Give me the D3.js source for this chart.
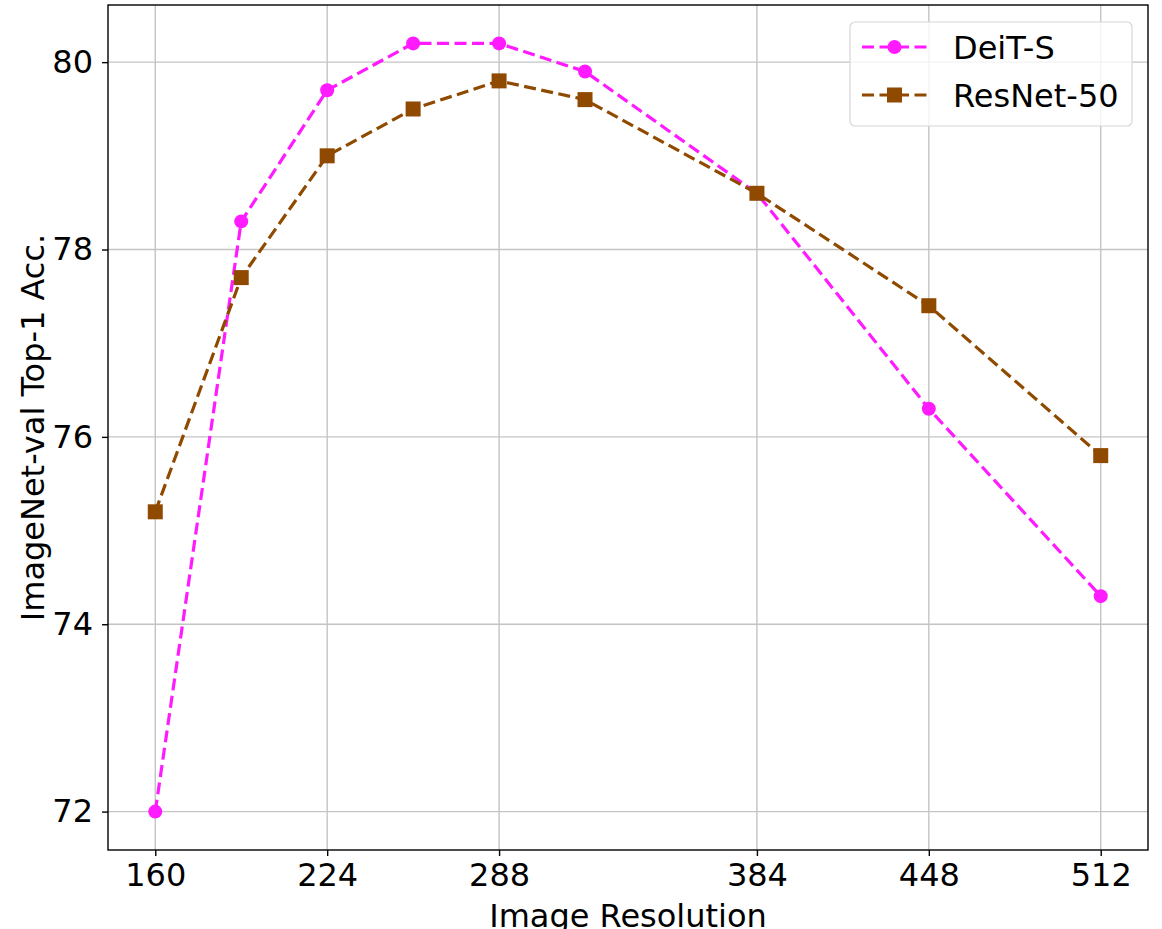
<!DOCTYPE html>
<html>
<head>
<meta charset="utf-8">
<script src="https://cdn.jsdelivr.net/npm/d3@7"></script>
<style>
  html, body { margin: 0; padding: 0; background: #fff; }
  svg { display: block; font-family: 'DejaVu Sans', sans-serif; }
</style>
</head>
<body>
<div id="chart"></div>
<script>
// data
const resolutions = [160, 192, 224, 256, 288, 320, 384, 448, 512];
const deitS = [72.0, 78.3, 79.7, 80.2, 80.2, 79.9, 78.6, 76.3, 74.3];
const resnet50 = [75.2, 77.7, 79.0, 79.5, 79.8, 79.6, 78.6, 77.4, 75.8];
const xTicks = [160, 224, 288, 384, 448, 512];
const yTicks = [72, 74, 76, 78, 80];

const seriesList = [
  { name: 'DeiT-S', values: deitS, color: '#ff1aff', marker: 'circle' },
  { name: 'ResNet-50', values: resnet50, color: '#8f4a00', marker: 'square' },
];

const width = 1162, height = 929;
const margin = { top: 5, right: 14, bottom: 79, left: 108 };
const innerW = width - margin.left - margin.right;
const innerH = height - margin.top - margin.bottom;
const fontSize = '32px';

// matplotlib style 5% padding
const xPad = (512 - 160) * 0.05;
const yMin = 72.0, yMax = 80.2;
const yPad = (yMax - yMin) * 0.05;

const x = d3.scaleLinear().domain([160 - xPad, 512 + xPad]).range([0, innerW]);
const y = d3.scaleLinear().domain([yMin - yPad, yMax + yPad]).range([innerH, 0]);

const svg = d3.select('#chart').append('svg')
  .attr('width', width)
  .attr('height', height);

const g = svg.append('g')
  .attr('transform', `translate(${margin.left},${margin.top})`);

// grid
g.append('g').selectAll('line').data(xTicks).join('line')
  .attr('x1', d => x(d)).attr('x2', d => x(d))
  .attr('y1', 0).attr('y2', innerH)
  .attr('stroke', '#c4c4c4').attr('stroke-width', 1.4);
g.append('g').selectAll('line').data(yTicks).join('line')
  .attr('x1', 0).attr('x2', innerW)
  .attr('y1', d => y(d)).attr('y2', d => y(d))
  .attr('stroke', '#c4c4c4').attr('stroke-width', 1.4);

// axes
const xAxis = g.append('g')
  .attr('transform', `translate(0,${innerH})`)
  .call(d3.axisBottom(x).tickValues(xTicks).tickSize(6).tickPadding(7).tickFormat(d3.format('d')));
const yAxis = g.append('g')
  .call(d3.axisLeft(y).tickValues(yTicks).tickSize(6).tickPadding(9).tickFormat(d3.format('d')));
[xAxis, yAxis].forEach(a => {
  a.select('.domain').remove();
  a.selectAll('.tick line').attr('stroke', '#000').attr('stroke-width', 1.4);
  a.selectAll('.tick text')
    .attr('fill', '#000')
    .style('font-family', "'DejaVu Sans', sans-serif")
    .style('font-size', fontSize);
});

// frame
g.append('rect')
  .attr('x', 0).attr('y', 0)
  .attr('width', innerW).attr('height', innerH)
  .attr('fill', 'none').attr('stroke', '#000').attr('stroke-width', 1.4);

// lines + markers
const line = d3.line()
  .x((d, i) => x(resolutions[i]))
  .y(d => y(d));

seriesList.forEach(s => {
  g.append('path')
    .datum(s.values)
    .attr('d', line)
    .attr('fill', 'none')
    .attr('stroke', s.color)
    .attr('stroke-width', 3.2)
    .attr('stroke-dasharray', '12,5.5');

  if (s.marker === 'circle') {
    g.append('g').selectAll('circle').data(s.values).join('circle')
      .attr('cx', (d, i) => x(resolutions[i]))
      .attr('cy', d => y(d))
      .attr('r', 7)
      .attr('fill', s.color);
  } else {
    g.append('g').selectAll('rect').data(s.values).join('rect')
      .attr('x', (d, i) => x(resolutions[i]) - 7.5)
      .attr('y', d => y(d) - 7.5)
      .attr('width', 15).attr('height', 15)
      .attr('fill', s.color);
  }
});

// axis labels
svg.append('text')
  .attr('x', margin.left + innerW / 2)
  .attr('y', 927)
  .attr('text-anchor', 'middle')
  .style('font-size', fontSize)
  .text('Image Resolution');

svg.append('text')
  .attr('transform', `translate(44,${margin.top + innerH / 2}) rotate(-90)`)
  .attr('text-anchor', 'middle')
  .style('font-size', fontSize)
  .text('ImageNet-val Top-1 Acc.');

// legend
const legend = svg.append('g').attr('transform', 'translate(850,22)');
legend.append('rect')
  .attr('width', 282).attr('height', 104)
  .attr('rx', 5)
  .attr('fill', 'rgba(255,255,255,0.8)')
  .attr('stroke', '#d6d6d6').attr('stroke-width', 1.2);

seriesList.forEach((s, i) => {
  const row = legend.append('g').attr('transform', `translate(0,${25 + i * 48})`);
  row.append('line')
    .attr('x1', 12).attr('x2', 77)
    .attr('y1', 0).attr('y2', 0)
    .attr('stroke', s.color).attr('stroke-width', 3.2)
    .attr('stroke-dasharray', '12,5.5');
  if (s.marker === 'circle') {
    row.append('circle').attr('cx', 44.5).attr('cy', 0).attr('r', 7).attr('fill', s.color);
  } else {
    row.append('rect').attr('x', 37).attr('y', -7.5).attr('width', 15).attr('height', 15).attr('fill', s.color);
  }
  row.append('text')
    .attr('x', 103).attr('y', 0)
    .attr('dy', '0.36em')
    .style('font-size', fontSize)
    .text(s.name);
});
</script>
</body>
</html>
